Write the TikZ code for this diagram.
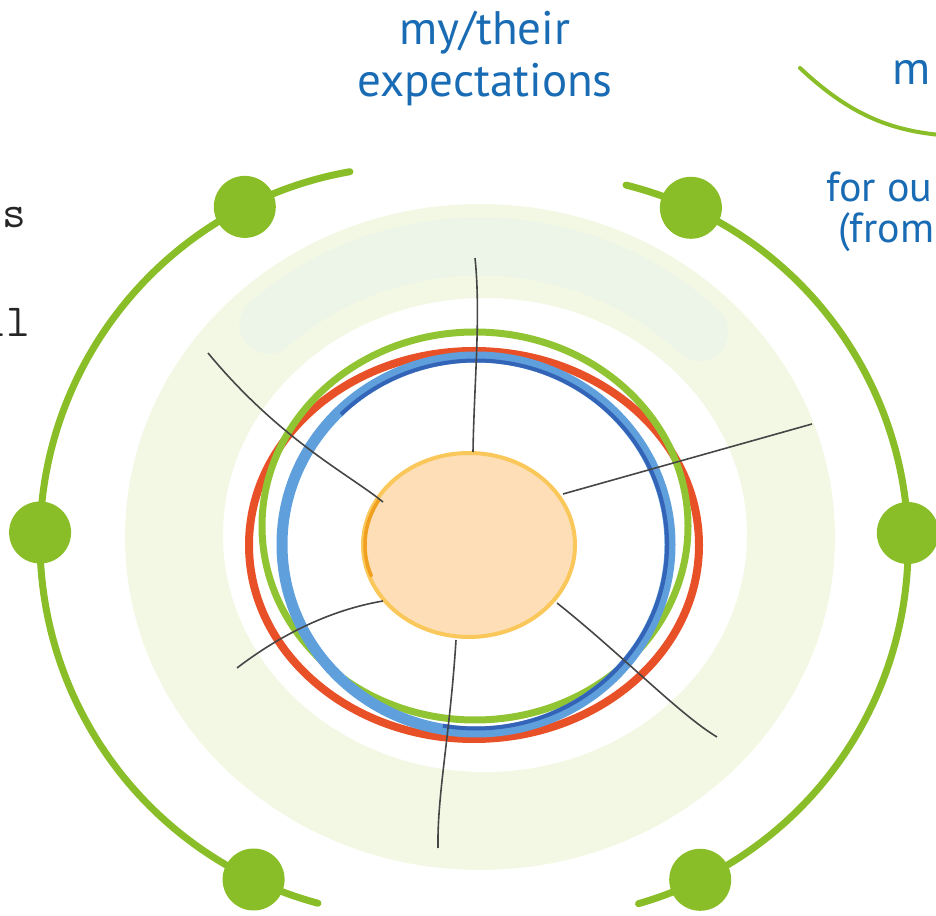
\documentclass[tikz,border=0pt]{standalone}
\usepackage{fontspec}
\newfontfamily\handfont{PT Sans}
\definecolor{leaf}{RGB}{138,190,40}
\definecolor{bandgreen}{RGB}{243,248,229}
\definecolor{mint}{RGB}{237,245,232}
\definecolor{ringred}{RGB}{232,80,40}
\definecolor{ringgreen}{RGB}{145,196,50}
\definecolor{ringlight}{RGB}{95,160,220}
\definecolor{ringdark}{RGB}{40,85,175}
\definecolor{peach}{RGB}{253,222,182}
\definecolor{yolk}{RGB}{250,200,90}
\definecolor{yolkdark}{RGB}{240,160,30}
\definecolor{spokegray}{RGB}{70,70,70}
\definecolor{inkblue}{RGB}{25,108,180}

\begin{document}
\begin{tikzpicture}%
        [x=1pt, y=1pt,
        arcline/.style={color=leaf, line width=7pt, line cap=round},
        bead/.style={circle, fill=leaf, inner sep=0pt, minimum size=62pt},
        ring/.style={line width=8pt},
        spoke/.style={color=spokegray, line width=1.6pt},
        hand/.style={color=inkblue, inner sep=0pt, font=\handfont\fontsize{47}{47}\selectfont},
        handsmall/.style={hand, font=\handfont\fontsize{42}{42}\selectfont},
        typed/.style={color=black!85, inner sep=0pt, font=\ttfamily\fontsize{46}{46}\selectfont}]
%
\useasboundingbox (0,0) rectangle (936,915);
\clip (0,0) rectangle (936,915);
%%
%% Pale band in the back
%%
\fill[bandgreen, even odd rule] (480,378) ellipse [x radius=355, y radius=333]
      (485,380) ellipse [x radius=262, y radius=237];
\draw[mint, line width=58pt, line cap=round] (699.2,583.1) arc [start angle=45, end angle=133, x radius=310, y radius=292];
%%
%% Coloured rings
%%
\draw[ring, ringred] (474,370) ellipse [x radius=225, y radius=194];
\draw[ring, ringgreen, line width=7pt] (475,389) ellipse [x radius=213, y radius=194];
\draw[ring, ringlight, line width=11pt] (476,370.5) ellipse [x radius=194, y radius=187.5];
\draw[ringdark, line width=4pt, opacity=0.8] (341,500.6) arc [start angle=135, end angle=-100, x radius=191, y radius=184];
%%
%% The core
%%
\fill[peach] (469,370) ellipse [x radius=106, y radius=92];
\draw[yolk, line width=4pt] (469,370) ellipse [x radius=106, y radius=92];
\draw[yolkdark, line width=3.5pt, line cap=round] (378.9,415) arc [start angle=150, end angle=200, x radius=104, y radius=90];
%%
%% Coordinates of the spokes
%%
\coordinate (n1) at (473,463);
\coordinate (t1) at (475,657);
\coordinate (n2) at (383,413);
\coordinate (t2) at (208,562);
\coordinate (n3) at (563,421);
\coordinate (t3) at (812,491);
\coordinate (n4) at (383,314);
\coordinate (t4) at (237,247);
\coordinate (n5) at (456,275);
\coordinate (t5) at (438,67);
\coordinate (n6) at (557,312);
\coordinate (t6) at (717,178);
%%
\draw[spoke] (n1) .. controls (474,530) and (481,600) .. (t1);
\draw[spoke] (n2) .. controls (350,440) and (280,475) .. (t2);
\draw[spoke] (n3) -- (t3);
\draw[spoke] (n4) .. controls (330,305) and (280,280) .. (t4);
\draw[spoke] (n5) .. controls (450,180) and (437,120) .. (t5);
\draw[spoke] (n6) .. controls (620,262) and (680,200) .. (t6);
%%
%% Outer arcs and beads
%%
\draw[arcline] (349.9,743.3) arc [start angle=100, end angle=255, radius=375];
\draw[arcline] (626,729.9) arc [start angle=76, end angle=-74, radius=372];
\draw[leaf, line width=4pt, line cap=round] (800,847) .. controls (850,800) and (890,785) .. (940,780);
%%
\node[bead] (b1) at (244.8,708.1) {};
\node[bead] (b2) at (40.1,382.5) {};
\node[bead] (b3) at (253.6,35.5) {};
\node[bead] (b4) at (690.9,707.2) {};
\node[bead] (b5) at (907.8,382) {};
\node[bead] (b6) at (700.2,35.2) {};
%%
%% Texts
%%
\node[hand, anchor=base] (my) at (485,870) {my/their};
\node[hand, anchor=base] (expect) at (485,818) {expectations};
\node[hand, anchor=base west] (mfrag) at (892,830) {m};
\node[handsmall, anchor=base west] (forou) at (826,713) {for ou};
\node[handsmall, anchor=base west] (from) at (838,672) {(from};
\node[typed, anchor=base east] (sfrag) at (26,687) {s};
\node[typed, anchor=base east] (lfrag) at (30,578) {ll};

\end{tikzpicture}
\end{document}
